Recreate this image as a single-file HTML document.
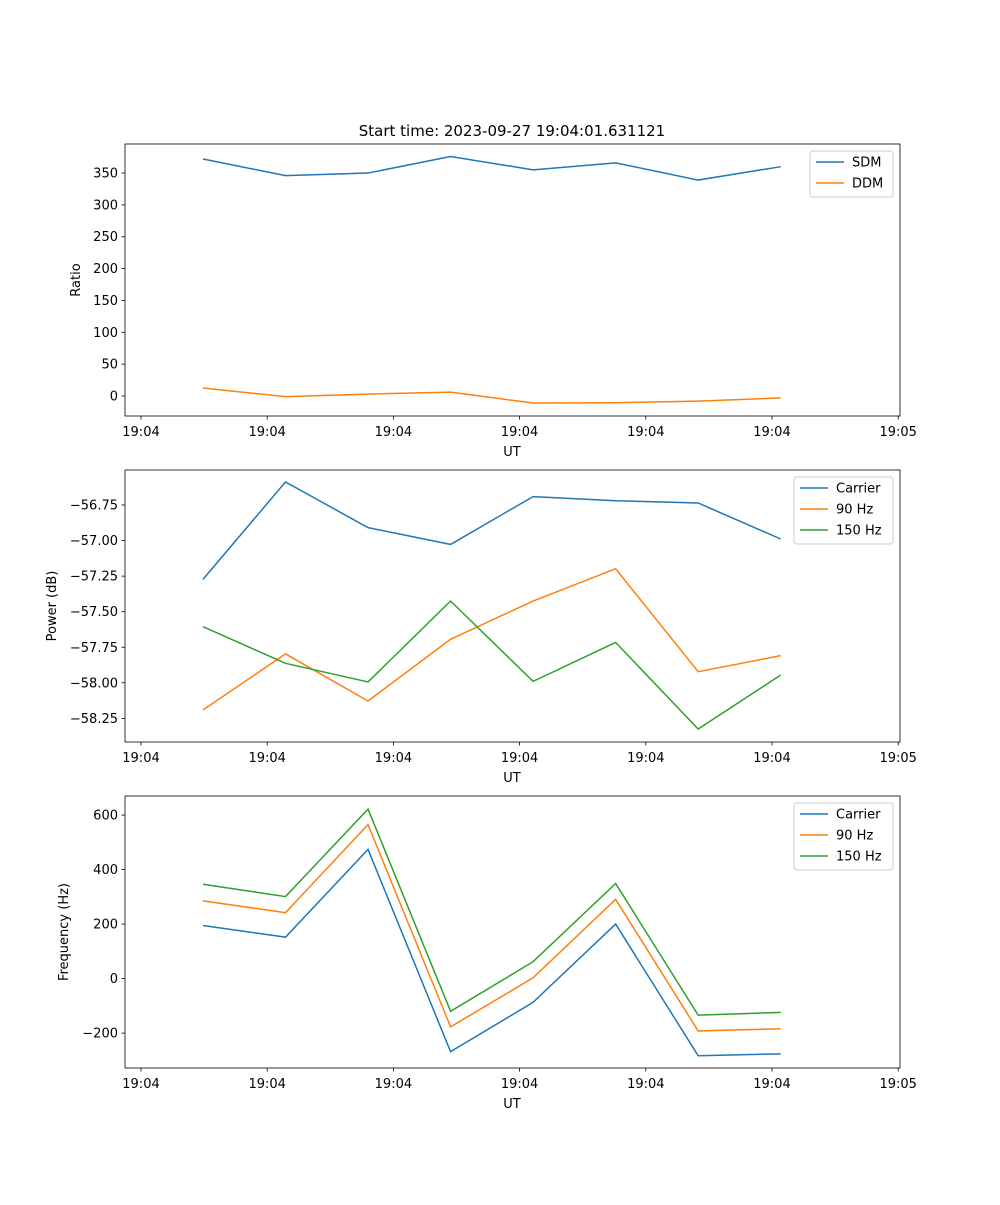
<!DOCTYPE html>
<html><head><meta charset="utf-8"><style>
body{margin:0;background:#fff}
svg{font-family:"DejaVu Sans","Liberation Sans",sans-serif;font-size:13px}
</style></head><body>
<svg id="fig" width="1000" height="1200" xmlns="http://www.w3.org/2000/svg">
<rect width="1000" height="1200" fill="#fff"/>
<text x="512" y="136" text-anchor="middle" font-size="15">Start time: 2023-09-27 19:04:01.631121</text>
</svg>
<script>
const xTickVals=[0,1,2,3,4,5,6];
const xTickLabels=["19:04","19:04","19:04","19:04","19:04","19:04","19:05"];
const times=[0.491,1.145,1.799,2.453,3.107,3.761,4.415,5.069];
const sdm=[372,346,350,376,355,366,339,360];
const ddm=[12.5,-1,3,6,-11,-10.5,-8,-3];
const pCarrier=[-57.273,-56.588,-56.909,-57.027,-56.691,-56.720,-56.736,-56.989];
const p90=[-58.191,-57.797,-58.128,-57.694,-57.425,-57.198,-57.922,-57.809];
const p150=[-57.605,-57.863,-57.994,-57.425,-57.990,-57.716,-58.325,-57.945];
const fCarrier=[195,152,474,-268,-87,200,-283,-276];
const f90=[285,242,565,-177,3,291,-192,-184];
const f150=[346,301,622,-120,62,349,-134,-124];
const ratioTicks=[0,50,100,150,200,250,300,350];
const powerTicks=[-58.25,-58.00,-57.75,-57.50,-57.25,-57.00,-56.75];
const freqTicks=[-200,0,200,400,600];
const C=["#1f77b4","#ff7f0e","#2ca02c"];
const NS="http://www.w3.org/2000/svg";
const svg=document.getElementById('fig');
function mk(t,a,p){const e=document.createElementNS(NS,t);for(const k in a)e.setAttribute(k,a[k]);(p||svg).appendChild(e);return e;}
const L=125,R=900,x0=-0.1268,x1=6.0143;
function sx(v){return L+(v-x0)/(x1-x0)*(R-L);}
function panel(name,top,bot,ymin,ymax,yt,fmt,ylabel,ylx,series,names,leg){
  const g=mk('g',{});
  
  
  const sy=v=>bot-(v-ymin)/(ymax-ymin)*(bot-top);
  series.forEach((s,k)=>{
    const pts=s.map((v,i)=>sx(times[i]).toFixed(2)+','+sy(v).toFixed(2)).join(' ');
    const pl=mk('polyline',{points:pts,fill:'none',stroke:C[k],'stroke-width':1.5},g);
    
    
  });
  mk('rect',{x:L,y:top,width:R-L,height:bot-top,fill:'none',stroke:'#000','stroke-width':0.8},g);
  xTickVals.forEach((v,i)=>{const x=sx(v);
    mk('line',{x1:x,x2:x,y1:bot,y2:bot+3.5,stroke:'#000','stroke-width':0.8},g);
    const t=mk('text',{x:x,y:bot+20,'text-anchor':'middle'},g);t.textContent=xTickLabels[i];
    
    });
  yt.forEach(v=>{const y=sy(v);
    mk('line',{x1:L-3.5,x2:L,y1:y,y2:y,stroke:'#000','stroke-width':0.8},g);
    const t=mk('text',{x:L-7,y:y+4.5,'text-anchor':'end'},g);t.textContent=fmt(v);
    
    });
  const xl=mk('text',{x:512,y:bot+40,'text-anchor':'middle'},g);xl.textContent='UT';
  
  
  const cy=(top+bot)/2;
  const yl=mk('text',{x:ylx,y:cy,'text-anchor':'middle',transform:`rotate(-90 ${ylx} ${cy})`},g);yl.textContent=ylabel;
  
  
  const lg=mk('g',{},g);
  
  
  mk('rect',{x:leg[0],y:top+7,width:R-7-leg[0],height:names.length*21+4,rx:3,fill:'#fff',stroke:'#ccc','stroke-width':1},lg);
  names.forEach((n,k)=>{const y=top+18+k*21;
    mk('line',{x1:leg[0]+6,x2:leg[0]+34,y1:y,y2:y,stroke:C[k],'stroke-width':1.5},lg);
    const t=mk('text',{x:leg[0]+42,y:y+4.5},lg);t.textContent=n;
    
    });
}
panel('ratio-panel',144,416,-31.4,395.6,ratioTicks,v=>String(v),'Ratio',80,[sdm,ddm],['SDM','DDM'],[810]);
panel('power-panel',470,742,-58.416,-56.504,powerTicks,v=>v.toFixed(2).replace('-','\u2212'),'Power (dB)',56,[pCarrier,p90,p150],['Carrier','90 Hz','150 Hz'],[794]);
panel('frequency-panel',796,1068,-328,670,freqTicks,v=>String(v).replace('-','\u2212'),'Frequency (Hz)',68,[fCarrier,f90,f150],['Carrier','90 Hz','150 Hz'],[794]);
</script>
</body></html>
